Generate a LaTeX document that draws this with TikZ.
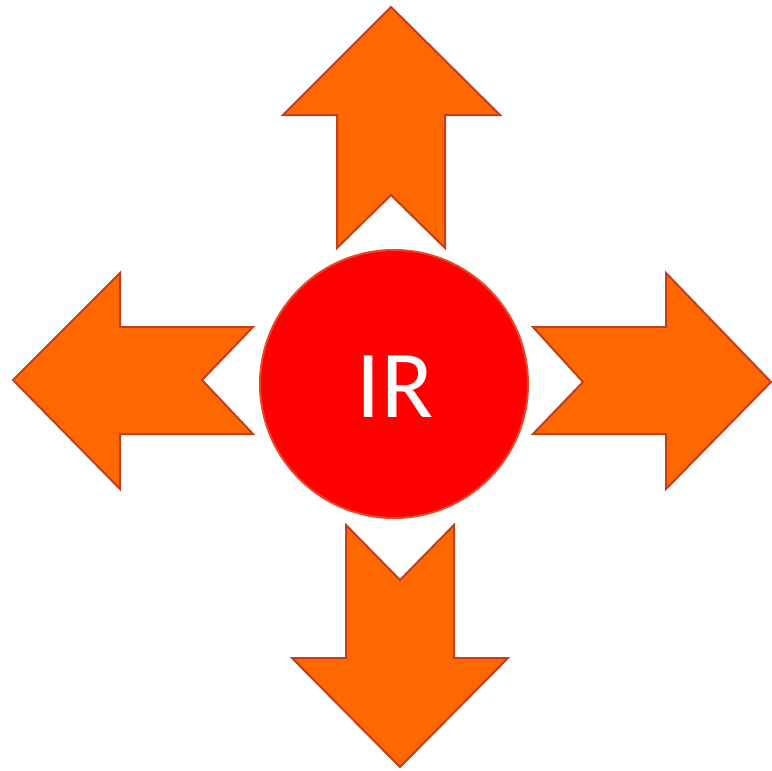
\documentclass[tikz,border=0pt]{standalone}
\usepackage{fontspec}
\setmainfont{Carlito}
\definecolor{arrfill}{RGB}{255,104,0}
\definecolor{arrline}{RGB}{196,62,30}
\definecolor{circfill}{RGB}{254,0,0}
\definecolor{circline}{RGB}{235,70,40}
\begin{document}
\begin{tikzpicture}[x=0.5pt,y=-0.5pt,
  arrowshape/.style={fill=arrfill,draw=arrline,line width=1pt,line join=miter},
  hub/.style={circle,fill=circfill,draw=circline,line width=1pt,minimum size=134pt,inner sep=0pt},
  hublabel/.style={text=white,inner sep=0pt,font=\fontsize{48}{50}\selectfont}]
\useasboundingbox (0,0) rectangle (772,771);
\fill[white] (0,0) rectangle (772,771);
% up arrow
\draw[arrowshape] (391,7) -- (500,115) -- (445,115) -- (445,248) -- (391,195) -- (337,248) -- (337,115) -- (283,115) -- cycle;
% right arrow
\draw[arrowshape] (771,382) -- (666,489) -- (666,434) -- (533,434) -- (583,382) -- (533,327) -- (666,327) -- (666,273) -- cycle;
% left arrow
\draw[arrowshape] (13,380) -- (120,273) -- (120,327) -- (253,327) -- (202,380) -- (253,434) -- (120,434) -- (120,489) -- cycle;
% down arrow
\draw[arrowshape] (400,767) -- (292,658) -- (346,658) -- (346,525) -- (400,580) -- (454,525) -- (454,658) -- (508,658) -- cycle;
% centre
\node[hub] (ir) at (394,384) {};
\node[hublabel,anchor=base] (irlabel) at (395,417) {IR};
\end{tikzpicture}
\end{document}
